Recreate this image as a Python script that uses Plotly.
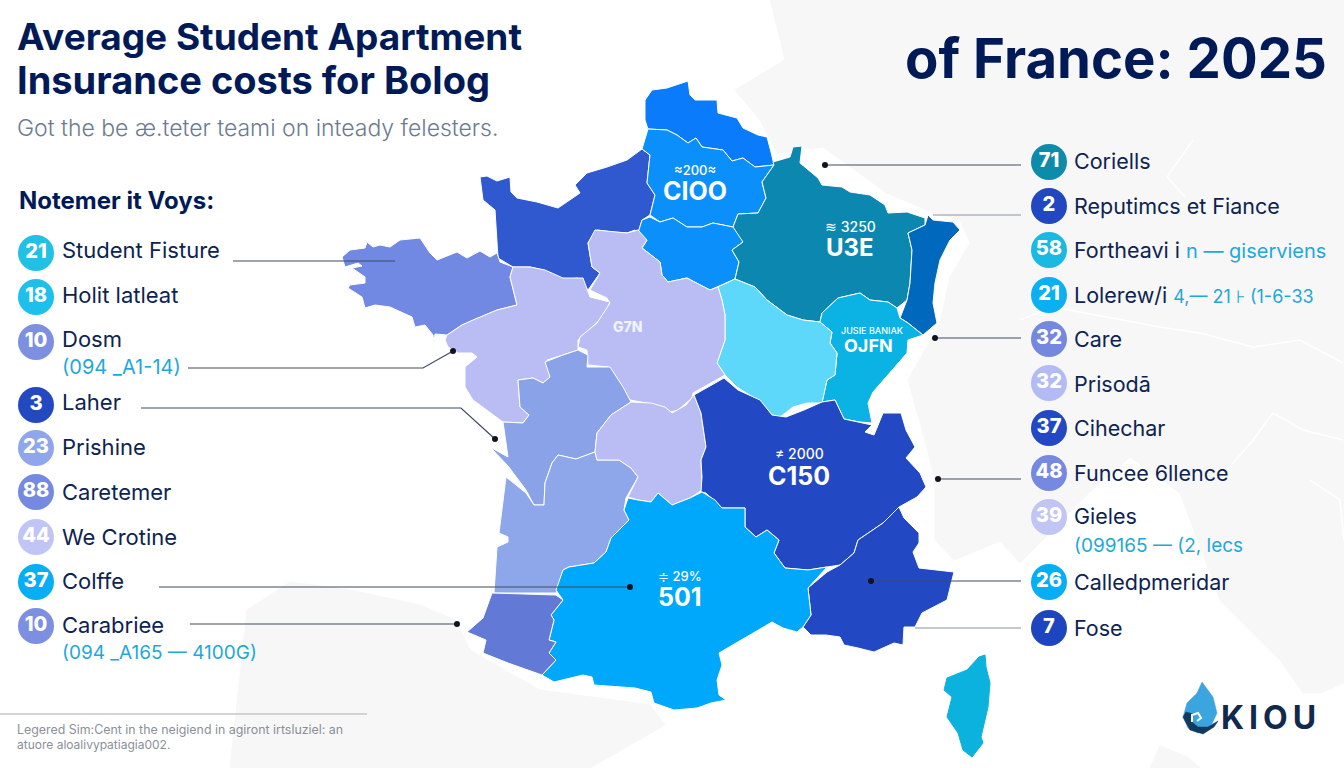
import plotly.graph_objects as go

# legend rows, left column
LEFT_VALUES = ["21", "18", "10", "3", "23", "88", "44", "37", "10"]
LEFT_LABELS = ["Student Fisture", "Holit latleat", "Dosm", "Laher", "Prishine",
               "Caretemer", "We Crotine", "Colffe", "Carabriee"]
LEFT_SUBS = ["(094 _A1-14)", "(094 _A165 — 4100G)"]

# legend rows, right column
RIGHT_VALUES = ["71", "2", "58", "21", "32", "32", "37", "48", "39", "26", "7"]
RIGHT_LABELS = ["Coriells", "Reputimcs et Fiance",
                "Fortheavi i <span style='color:#1fa8d8;font-size:20px'>n — giserviens</span>",
                "Lolerew/i <span style='color:#1fa8d8;font-size:18px'>4,— 21 ⊦ (1-6-33</span>",
                "Care", "Prisodā", "Cihechar", "Funcee 6llence", "Gieles",
                "Calledpmeridar", "Fose"]
RIGHT_SUB = "(099165 — (2, lecs"

# labels printed on the map
MAP_SMALL = ["≈200≈", "≋ 3250", "JUSIE BANIAK", "≠ 2000", "≑ 29%"]
MAP_BIG = ["CIOO", "U3E", "OJFN", "C150", "501"]

# region outlines
NORD = [(645,100),(652,90),(667,88),(688,81),(690,95),(695,100),(717,100),(718,113),(737,118),(743,128),(758,135),(767,137),(771,152),(774,165),(755,167),(743,158),(732,161),(723,150),(702,147),(696,138),(688,143),(677,135),(667,130),(648,129),(645,120)]
PICARDIE = [(648,129),(667,130),(677,135),(688,143),(696,138),(702,147),(723,150),(732,161),(743,158),(755,167),(774,165),(762,182),(766,198),(758,213),(738,214),(733,227),(713,223),(702,227),(687,227),(673,218),(660,222),(650,215),(655,195),(647,183),(650,155),(642,149)]
ILE = [(642,220),(650,217),(660,222),(673,218),(687,227),(702,227),(713,223),(733,227),(742,233),(743,242),(732,250),(739,262),(735,279),(710,290),(700,285),(687,278),(668,282),(662,275),(660,262),(642,248),(647,240),(638,233)]
GRAND_EST = [(774,165),(773,162),(790,157),(793,147),(802,146),(800,163),(818,178),(822,185),(842,187),(850,192),(870,195),(885,205),(888,213),(907,212),(925,218),(925,225),(908,233),(912,250),(910,283),(907,300),(897,308),(888,302),(870,300),(860,293),(838,298),(822,313),(820,322),(803,320),(787,315),(767,300),(755,287),(735,279),(739,262),(732,250),(743,242),(733,227),(738,214),(758,213),(766,198),(762,182)]
ALSACE = [(928,215),(933,220),(953,222),(960,230),(950,240),(940,260),(935,283),(933,303),(937,323),(923,335),(908,323),(900,318),(907,300),(910,283),(912,250),(908,233),(925,225)]
COMTE = [(822,313),(838,298),(860,293),(870,300),(888,302),(897,308),(900,318),(908,323),(923,335),(908,340),(907,353),(892,370),(873,392),(868,403),(870,413),(872,423),(860,422),(844,419),(835,400),(822,402),(827,380),(835,375),(837,353),(830,343),(832,332),(820,322)]
BOURGOGNE = [(718,287),(735,279),(755,287),(767,300),(787,315),(803,320),(820,322),(832,332),(830,343),(837,353),(835,375),(827,380),(822,403),(807,403),(793,407),(780,417),(772,415),(762,403),(737,387),(725,375),(717,363),(725,340),(725,315),(722,300)]
NORMANDIE = [(635,230),(627,233),(613,232),(597,230),(588,243),(592,267),(600,273),(588,290),(578,278),(563,280),(543,270),(530,267),(513,267),(498,258),(495,210),(483,200),(480,177),(487,176),(497,181),(510,177),(511,192),(517,198),(537,202),(558,208),(580,193),(575,185),(587,173),(607,167),(627,160),(642,149),(650,155),(647,183),(655,195),(650,215),(642,220),(638,233)]
BRETAGNE = [(342,257),(350,250),(365,248),(367,242),(373,247),(380,245),(390,247),(400,240),(420,238),(430,253),(437,260),(457,252),(467,258),(480,251),(490,257),(497,253),(500,262),(513,267),(510,277),(517,305),(497,310),(473,320),(462,325),(447,335),(435,334),(434,343),(433,335),(425,325),(415,327),(412,317),(390,307),(375,305),(365,308),(362,297),(348,288),(350,285),(365,283),(365,277),(352,268),(362,266),(358,263),(345,267)]
LOIRE = [(447,335),(462,325),(473,320),(497,310),(517,305),(510,277),(513,267),(530,267),(545,270),(563,278),(583,278),(590,297),(610,302),(603,317),(578,340),(578,350),(563,355),(547,360),(550,377),(543,383),(533,378),(518,380),(520,407),(529,415),(523,423),(503,422),(473,400),(465,387),(465,367),(477,357),(472,353),(458,353),(448,347),(445,340)]
CENTRE = [(595,230),(613,232),(627,233),(638,230),(647,240),(642,248),(660,262),(662,275),(668,282),(687,278),(700,285),(710,290),(718,287),(722,300),(725,315),(725,340),(717,363),(725,375),(693,393),(692,398),(678,410),(667,413),(657,405),(630,400),(620,383),(608,367),(588,365),(587,350),(578,347),(580,337),(597,323),(610,303),(607,298),(590,290),(600,273),(592,267),(588,243)]
POITOU = [(503,422),(523,423),(529,415),(520,407),(518,380),(533,378),(543,383),(550,377),(545,362),(563,355),(578,350),(588,355),(587,367),(610,367),(623,387),(631,402),(611,415),(597,433),(595,452),(576,459),(558,455),(552,463),(545,483),(544,505),(534,505),(526,490),(508,466),(490,447),(508,457)]
AQUITAINE = [(506,477),(526,493),(534,505),(544,505),(545,483),(552,463),(558,455),(576,459),(595,452),(597,460),(619,460),(631,468),(638,477),(626,498),(624,510),(629,520),(611,538),(606,552),(594,563),(569,567),(563,570),(558,587),(556,593),(494,593),(497,547),(508,542),(508,537),(499,533)]
LIMOUSIN = [(595,452),(597,433),(611,415),(631,402),(651,403),(665,407),(672,413),(686,405),(694,395),(701,413),(706,447),(701,460),(702,490),(690,498),(672,505),(658,493),(651,502),(638,500),(628,497),(638,477),(631,468),(619,460),(597,460)]
RHONE = [(694,395),(724,378),(738,390),(760,400),(772,415),(786,417),(804,410),(822,402),(835,400),(844,419),(872,425),(865,432),(874,435),(883,413),(901,413),(906,430),(915,447),(906,458),(920,473),(926,487),(917,497),(899,507),(883,523),(858,540),(854,553),(840,565),(827,567),(808,570),(785,568),(774,553),(779,540),(767,530),(756,537),(745,527),(745,508),(722,508),(706,493),(701,492),(702,477),(701,460),(706,447),(701,413)]
PROVENCE = [(899,507),(904,518),(919,533),(919,543),(913,552),(919,568),(954,572),(951,583),(947,600),(922,613),(915,627),(904,627),(903,645),(894,643),(874,652),(858,648),(844,645),(840,637),(826,635),(811,635),(803,627),(811,615),(808,588),(827,572),(840,565),(854,553),(858,540),(883,523)]
OCCITANIE = [(563,570),(569,567),(594,563),(606,552),(611,538),(629,520),(624,510),(628,498),(638,500),(651,502),(658,493),(672,505),(690,498),(702,492),(715,500),(722,508),(745,508),(745,527),(756,537),(767,530),(779,540),(774,553),(785,568),(808,570),(827,567),(808,588),(811,615),(803,627),(797,632),(783,628),(772,622),(719,653),(722,665),(717,680),(719,695),(726,700),(711,703),(697,708),(674,710),(654,703),(651,692),(635,688),(594,685),(592,677),(583,675),(554,682),(542,675),(556,660),(549,653),(556,642),(549,640),(554,620),(551,615),(563,600),(556,590)]
BASQUE = [(492,593),(556,595),(563,600),(551,615),(554,620),(549,640),(556,642),(549,653),(556,660),(542,675),(508,663),(483,653),(486,640),(467,632),(483,618)]
CORSE = [(985,655),(986,667),(990,683),(988,707),(981,737),(983,743),(972,757),(963,750),(958,733),(947,717),(952,697),(944,690),(947,678),(967,670),(979,657)]

# pale neighbouring land
EUROPE = [(770,0),(1344,0),(1344,683),(1320,693),(1303,693),(1280,660),(1220,600),(1180,493),(1130,457),(1092,490),(1020,563),(1000,541),(954,560),(935,540),(935,480),(925,440),(908,380),(940,323),(950,277),(970,243),(960,220),(927,210),(887,193),(823,147),(777,153),(760,120),(735,90),(785,60)]
ESPAGNE = [(230,768),(247,610),(290,582),(350,590),(420,605),(455,620),(470,650),(540,690),(650,705),(665,725),(590,768)]
ILOT = [(1150,768),(1160,746),(1188,757),(1200,768)]

# faint borders inside the pale land
BORDERS = [
    [(1193,140),(1167,177),(1185,197)],
    [(1020,320),(1053,307),(1160,327),(1200,333),(1253,347),(1300,340),(1343,363)],
    [(1227,470),(1253,440),(1273,413),(1303,430),(1343,440)],
    [(1310,480),(1340,500),(1344,540)],
]

# logo
DROP = [(1202,682),(1213,697),(1217,713),(1210,728),(1198,733),(1188,728),(1183,717),(1187,703),(1197,693)]
DROP_BASE = [(1183,717),(1190,730),(1203,734),(1214,727),(1218,721),(1208,727),(1198,727),(1192,722),(1193,714),(1186,712)]
DROP_SWIRL = [(1192,722),(1192,715),(1198,713),(1201,718),(1197,721)]

NAVY = "#001a57"
INK = "#0d2350"
CYAN = "#1fa8d8"
PALE = "#f7f7f8"
FONT = "Inter"

fig = go.Figure()


def blob(points, color, line="#ffffff", width=1.0):
    xs = [p[0] for p in points] + [points[0][0]]
    ys = [p[1] for p in points] + [points[0][1]]
    fig.add_trace(go.Scatter(x=xs, y=ys, mode="lines", fill="toself", fillcolor=color,
                             line=dict(color=line, width=width), hoverinfo="skip"))


def leader(xs, ys, color="#3f4a60", width=1.2, dot=True):
    fig.add_trace(go.Scatter(x=xs, y=ys, mode="lines", line=dict(color=color, width=width), hoverinfo="skip"))
    if dot:
        fig.add_trace(go.Scatter(x=xs[-1:], y=ys[-1:], mode="markers",
                                 marker=dict(color="#10141f", size=6), hoverinfo="skip"))


def label(x, y, text, size, color=INK, weight=400, anchor="left"):
    fig.add_annotation(x=x, y=y, text=text, showarrow=False, xanchor=anchor, yanchor="middle",
                       xref="x", yref="y", borderpad=0, borderwidth=0,
                       font=dict(family=FONT, size=size, color=color, weight=weight))


# background land
blob(EUROPE, PALE, line=PALE)
blob(ESPAGNE, PALE, line=PALE)
blob(ILOT, PALE, line=PALE)
for border in BORDERS:
    leader([p[0] for p in border], [p[1] for p in border], color="#ffffff", width=1.5, dot=False)

# regions
blob(NORD, "#0a7bfb")
blob(NORMANDIE, "#3059cf")
blob(BRETAGNE, "#7189e2")
blob(PICARDIE, "#0a8ffb")
blob(ILE, "#0a8ffb")
blob(GRAND_EST, "#0c88b0")
blob(ALSACE, "#0068bd")
blob(COMTE, "#0ab3e3")
blob(BOURGOGNE, "#5dd8fa")
blob(LOIRE, "#b9bdf4")
blob(CENTRE, "#b9bdf4")
blob(POITOU, "#8aa3e8")
blob(AQUITAINE, "#8ea6ea")
blob(LIMOUSIN, "#b9bdf4")
blob(RHONE, "#2248c4")
blob(PROVENCE, "#2248c4")
blob(OCCITANIE, "#00a8fb")
blob(BASQUE, "#6279d6")
blob(CORSE, "#0cb2de", line="#0cb2de")

# leader lines
leader([233, 395], [261, 261], dot=False)
leader([188, 423, 453], [368, 368, 351])
leader([141, 461, 495], [408, 408, 439])
leader([159, 630], [587, 587])
leader([190, 457], [624, 624])
leader([1021, 825], [165, 165])
leader([1021, 933], [215, 215], color="#8a93a3", dot=False)
leader([1021, 935], [338, 338])
leader([1021, 938], [479, 479])
leader([1021, 871], [581, 581])
leader([1021, 915], [628, 628], color="#8a93a3", dot=False)
leader([0, 367], [714, 714], color="#c4c6ca", width=1.5, dot=False)

# legend circles
left_y = [253, 297, 342, 405, 448, 492, 537, 582, 626]
left_colors = ["#22c0e5", "#1dc0ea", "#7c8fe0", "#2249c0", "#8fa6ec", "#7589e0", "#c0c5f5", "#06aef4", "#7c8fe0"]
fig.add_trace(go.Scatter(x=[36] * len(left_y), y=left_y, mode="markers+text", text=LEFT_VALUES,
                         marker=dict(color=left_colors, size=36), textposition="middle center",
                         textfont=dict(family=FONT, size=20, color="white", weight=800), hoverinfo="skip"))
right_y = [162, 206, 250, 295, 339, 383, 428, 473, 517, 582, 628]
right_colors = ["#0c8bab", "#2148c0", "#1ab9e2", "#0bb0f2", "#7488de", "#b3bbf4", "#2248c4", "#7689e0", "#c0c5f5", "#06aef6", "#1e45c0"]
fig.add_trace(go.Scatter(x=[1049] * len(right_y), y=right_y, mode="markers+text", text=RIGHT_VALUES,
                         marker=dict(color=right_colors, size=36), textposition="middle center",
                         textfont=dict(family=FONT, size=20, color="white", weight=800), hoverinfo="skip"))

# logo marks
blob(DROP, "#3ba5e0", line="#3ba5e0", width=0.5)
blob(DROP_BASE, "#12395f", line="#12395f", width=0.5)
leader([p[0] for p in DROP_SWIRL], [p[1] for p in DROP_SWIRL], color="#ffffff", width=2, dot=False)

# titles
label(17, 36, "Average Student Apartment", 37, NAVY, 700)
label(17, 80, "Insurance costs for Bolog", 38, NAVY, 700)
label(905, 58, "of France: 2025", 54.5, NAVY, 700)
label(17, 128, "Got the be æ.teter teami on inteady felesters.", 23, "#6d7b8f", 300)
label(19, 200, "Notemer it Voys:", 24, NAVY, 700)

# legend text
left_label_y = [250, 295, 339, 402, 447, 492, 537, 581, 625]
for y, name in zip(left_label_y, LEFT_LABELS):
    label(62, y, name, 22)
for y, sub, s in zip([367, 652], LEFT_SUBS, [20, 19]):
    label(62, y, sub, s, CYAN)
right_label_y = [161, 206, 250, 295, 339, 384, 428, 473, 516, 582, 628]
for y, name in zip(right_label_y, RIGHT_LABELS):
    label(1074, y, name, 21.5)
label(1074, 545, RIGHT_SUB, 19, CYAN)

# on-map figures
small_pos = [(695, 170), (850, 226), (872, 330), (799, 453), (680, 576)]
big_pos = [(695, 191), (850, 247), (868, 345), (799, 476), (680, 597)]
small_sizes = [13, 14, 9, 14, 13]
big_sizes = [25, 24, 18, 25, 25]
for (x, y), txt, s in zip(small_pos, MAP_SMALL, small_sizes):
    label(x, y, txt, s, "white", 500, "center")
for (x, y), txt, s in zip(big_pos, MAP_BIG, big_sizes):
    label(x, y, txt, s, "white", 700, "center")
label(627, 326, "G7N", 14, "#f2f3ff", 800, "center")

# footnote and logo word
label(17, 729, "Legered Sim:Cent in the neigiend in agiront irtsluziel: an", 12.4, "#8a8f98")
label(17, 744, "atuore aloalivypatiagia002.", 12, "#8a8f98")
label(1221, 717, "K\u2009I\u2009O\u2009U", 32, "#12294e", 700)

fig.update_xaxes(range=[0, 1344], visible=False, fixedrange=True)
fig.update_yaxes(range=[768, 0], visible=False, fixedrange=True)
fig.update_layout(width=1344, height=768, autosize=False, showlegend=False,
                  margin=dict(l=0, r=0, t=0, b=0),
                  paper_bgcolor="white", plot_bgcolor="white",
                  hovermode=False)

fig.write_html("out.html", config={"displayModeBar": False},
               post_script="document.body.style.margin='0';")
